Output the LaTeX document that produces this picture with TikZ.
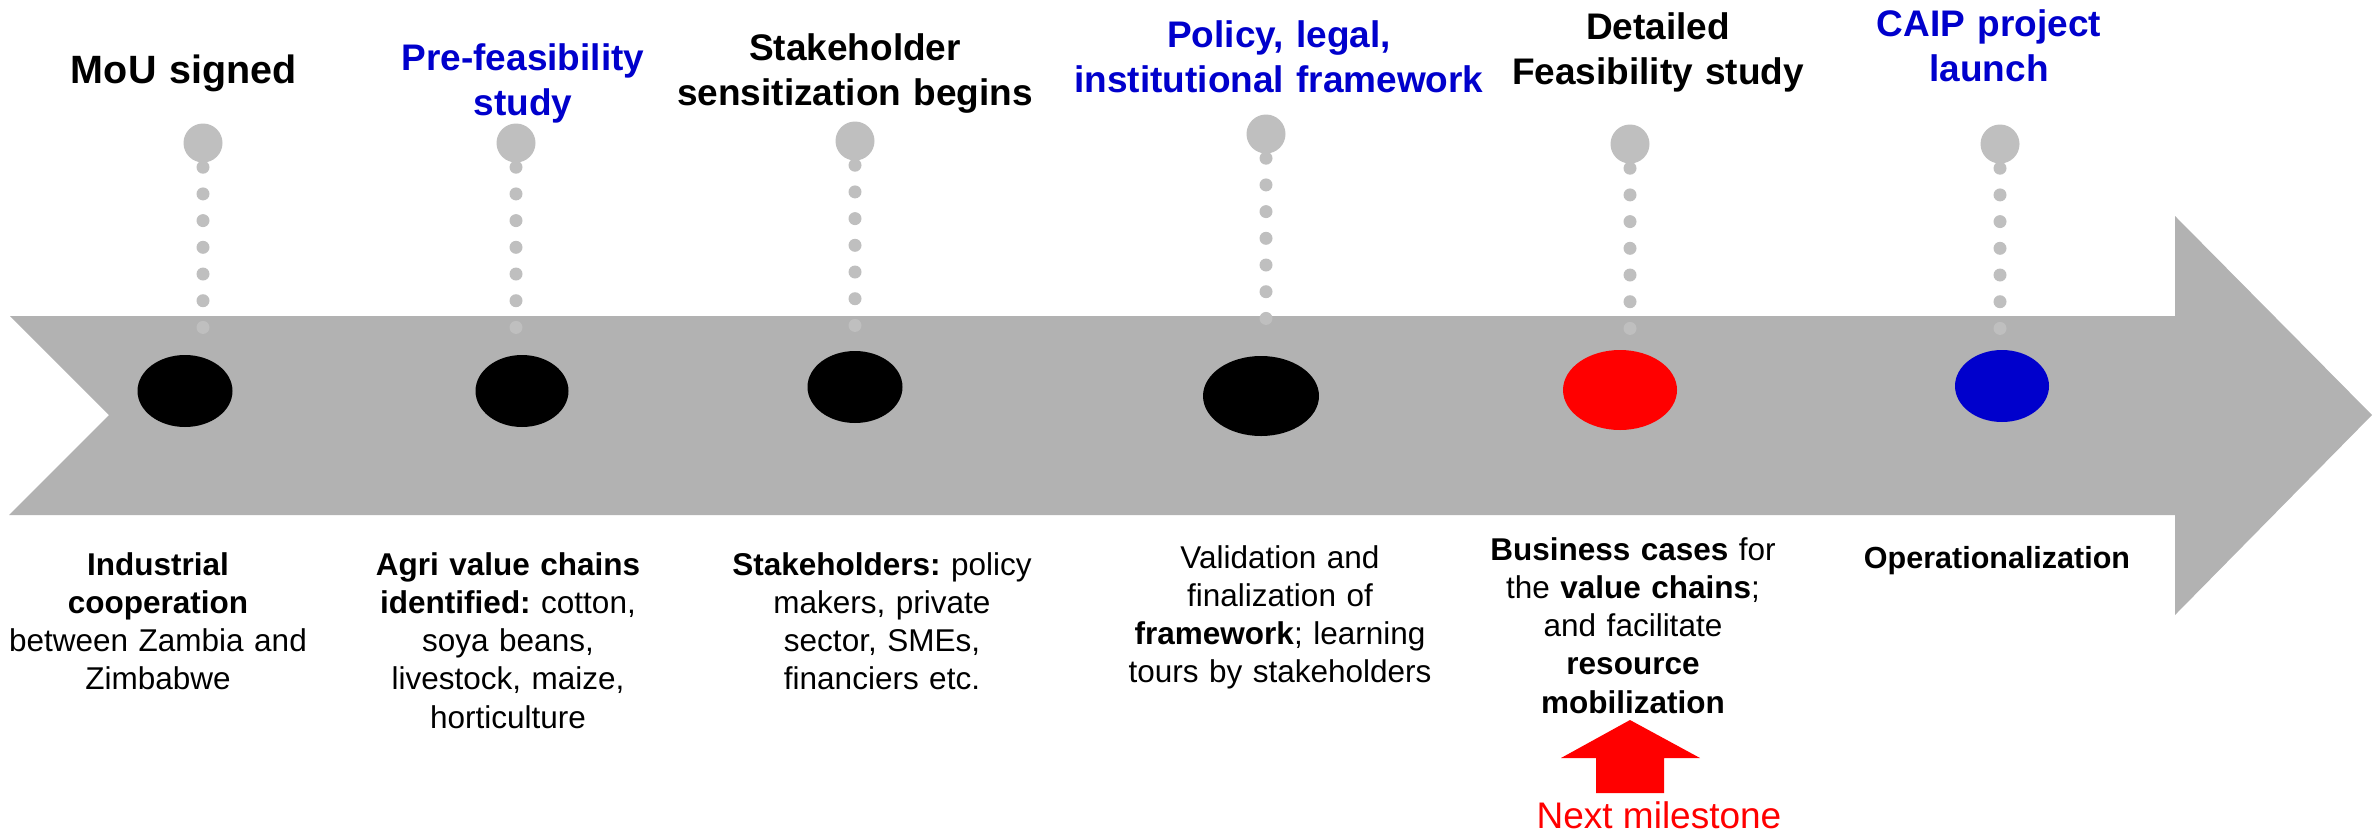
\documentclass[tikz,border=0pt]{standalone}
\usepackage{fontspec}
\setmainfont{Liberation Sans}
\usetikzlibrary{shapes.geometric}
\definecolor{arrowgray}{HTML}{B2B2B2}
\definecolor{dotgray}{HTML}{BFBFBF}
\definecolor{tblue}{HTML}{0000CC}
\definecolor{tred}{HTML}{FF0000}
\frenchspacing
\begin{document}
\frenchspacing
\begin{tikzpicture}[x=1pt,y=-1pt,
  marker/.style={ellipse, inner sep=0pt, draw=none},
  pin/.style={circle, fill=dotgray, inner sep=0pt, minimum size=39pt},
  dotline/.style={draw=dotgray, line width=13pt, line cap=round, dash pattern=on 0pt off 26.7pt, shorten <=4.5pt},
  title/.style={anchor=base, align=center, text width=500pt, inner sep=0pt, font=\bfseries\fontsize{37}{45}\selectfont},
  body/.style={anchor=base, align=center, text width=400pt, inner sep=0pt, font=\fontsize{31.5}{38.3}\selectfont},
]
\useasboundingbox (0,0) rectangle (2374,836);
% big timeline arrow
\fill[arrowgray] (10,316) -- (2175,316) -- (2175,216) -- (2372,415) -- (2175,615) -- (2175,515) -- (9,515) -- (109,415) -- cycle;

% pins and dotted stems
\node[pin] (g1) at (203,143) {};
\node[pin] (g2) at (516,143) {};
\node[pin] (g3) at (855,141) {};
\node[pin] (g4) at (1266,134) {};
\node[pin] (g5) at (1630,144) {};
\node[pin] (g6) at (2000,144) {};
\coordinate (d1) at (203,329);
\coordinate (d2) at (516,329);
\coordinate (d3) at (855,327);
\coordinate (d4) at (1266,320);
\coordinate (d5) at (1630,330);
\coordinate (d6) at (2000,330);
\draw[dotline] (g1.south) -- (d1);
\draw[dotline] (g2.south) -- (d2);
\draw[dotline] (g3.south) -- (d3);
\draw[dotline] (g4.south) -- (d4);
\draw[dotline] (g5.south) -- (d5);
\draw[dotline] (g6.south) -- (d6);

% milestone markers
\node[marker, fill=black, minimum width=95pt, minimum height=72pt] (m1) at (185,391) {};
\node[marker, fill=black, minimum width=93pt, minimum height=72pt] (m2) at (522,391) {};
\node[marker, fill=black, minimum width=95pt, minimum height=72pt] (m3) at (855,387) {};
\node[marker, fill=black, minimum width=116pt, minimum height=80pt] (m4) at (1261,396) {};
\node[marker, fill=tred, minimum width=114pt, minimum height=80pt] (m5) at (1620,390) {};
\node[marker, fill=tblue, minimum width=94pt, minimum height=72pt] (m6) at (2002,386) {};

% titles
\node[title, font=\bfseries\fontsize{39.5}{45}\selectfont] (t1) at (184,83) {MoU signed};
\node[title, text=tblue] (t2) at (523,70) {Pre-feasibility\\study};
\node[title] (t3) at (855,60) {Stakeholder\\sensitization begins};
\node[title, text=tblue] (t4) at (1279,47) {Policy, legal,\\institutional framework};
\node[title] (t5) at (1658,39) {Detailed\\Feasibility study};
\node[title, text=tblue] (t6) at (1989,36) {CAIP project\\launch};

% descriptions
\node[body] (b1) at (158,575) {\textbf{Industrial}\\\textbf{cooperation}\\between Zambia and\\Zimbabwe};
\node[body] (b2) at (508,575) {\textbf{Agri value chains}\\\textbf{identified:} cotton,\\soya beans,\\livestock, maize,\\horticulture};
\node[body] (b3) at (882,575) {\textbf{Stakeholders:} policy\\makers, private\\sector, SMEs,\\financiers etc.};
\node[body] (b4) at (1280,568) {Validation and\\finalization of\\\textbf{framework}; learning\\tours by stakeholders};
\node[body] (b5) at (1633,560) {\textbf{Business cases} for\\the \textbf{value chains};\\and facilitate\\\textbf{resource}\\\textbf{mobilization}};
\node[body, font=\fontsize{30.5}{38.3}\selectfont] (b6) at (1997,568) {\textbf{Operationalization}};

% next milestone pointer
\fill[tred] (1596,793) -- (1596,758) -- (1561,758) -- (1630,720) -- (1700,758) -- (1664,758) -- (1664,793) -- cycle;
\node[anchor=base, inner sep=0pt, text=tred, font=\fontsize{37}{45}\selectfont] (nm) at (1659,828) {Next milestone};
\end{tikzpicture}
\end{document}
